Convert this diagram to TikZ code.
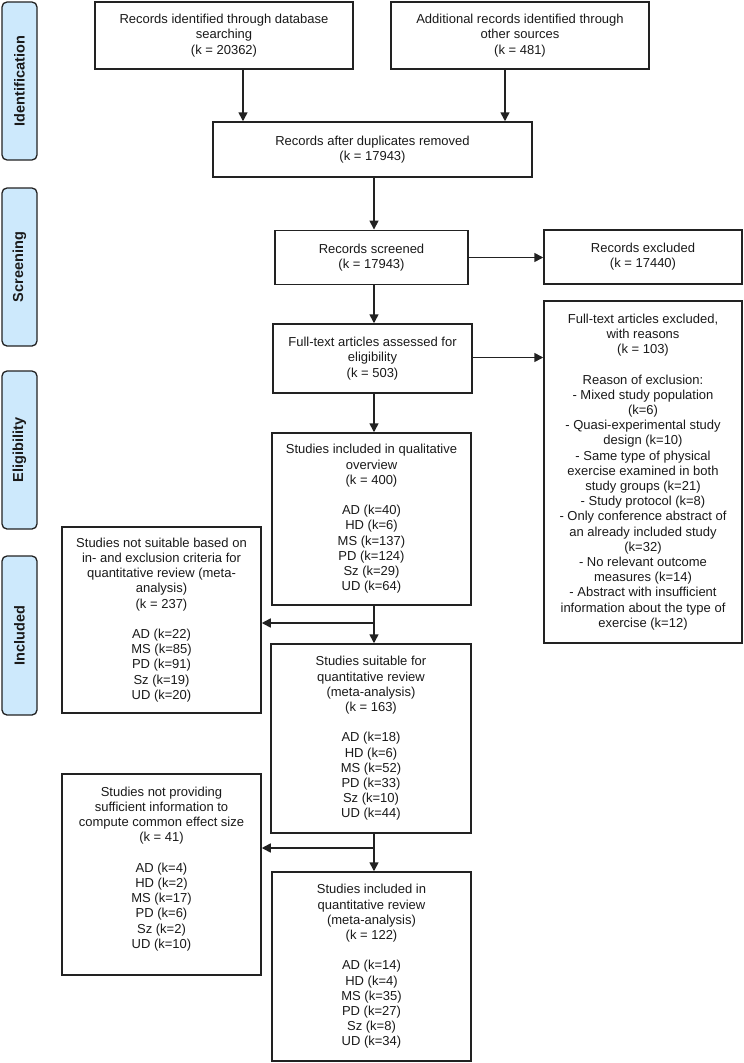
\documentclass[tikz,border=0pt]{standalone}
\usepackage{fontspec}
\setmainfont{Liberation Sans}
\usetikzlibrary{arrows.meta}
\definecolor{lineC}{HTML}{222222}
\definecolor{txtC}{HTML}{1A1A1A}
\definecolor{labFill}{HTML}{CDE9FC}
\begin{document}
\begin{tikzpicture}[x=1pt,y=-1pt,
  boxnode/.style={draw=lineC, line width=1.5pt, fill=white, align=center, inner sep=0pt,
    text=txtC, font=\fontsize{13}{15.2}\selectfont},
  labnode/.style={draw=lineC, line width=1.3pt, fill=labFill, rounded corners=5pt,
    minimum width=35pt, inner sep=0pt},
  labtext/.style={rotate=90, font=\fontsize{14.5}{16}\selectfont\bfseries, text=txtC},
  arr/.style={draw=lineC, line width=1.6pt, -{Triangle[length=9pt,width=9pt]}}
]
\useasboundingbox (0,0) rectangle (744,1063);

% phase labels
\node[labnode, minimum height=158pt] (lab1) at (19.5,81) {};
\node[labtext] (lab1t) at (lab1) {Identification};
\node[labnode, minimum height=158pt] (lab2) at (19.5,267) {};
\node[labtext] (lab2t) at (lab2) {Screening};
\node[labnode, minimum height=158pt] (lab3) at (19.5,450) {};
\node[labtext] (lab3t) at (lab3) {Eligibility};
\node[labnode, minimum height=159pt] (lab4) at (19.5,635.5) {};
\node[labtext] (lab4t) at (lab4) {Included};

% boxes
\node[boxnode, minimum width=258pt, minimum height=67pt] (b1) at (224,35.5)
  {Records identified through database\\searching\\(k = 20362)};
\node[boxnode, minimum width=258pt, minimum height=67pt] (b2) at (520,35.5)
  {Additional records identified through\\other sources\\(k = 481)};
\node[boxnode, minimum width=319pt, minimum height=55pt] (b3) at (372.5,149.5)
  {Records after duplicates removed\\(k = 17943)};
\node[boxnode, minimum width=193pt, minimum height=54pt] (b4) at (371.5,257.3)
  {Records screened\\(k = 17943)};
\node[boxnode, minimum width=198pt, minimum height=54pt] (b5) at (643,257)
  {Records excluded\\(k = 17440)};
\node[boxnode, minimum width=199pt, minimum height=69pt] (b6) at (372.5,358.5)
  {Full-text articles assessed for\\eligibility\\(k = 503)};
\node[boxnode, minimum width=198pt, minimum height=342pt] (b7) at (643,472)
  {Full-text articles excluded,\\with reasons\\(k = 103)\\[15.2pt]
   Reason of exclusion:\\- Mixed study population\\(k=6)\\- Quasi-experimental study\\design (k=10)\\
   - Same type of physical\\exercise examined in both\\study groups (k=21)\\- Study protocol (k=8)\\
   - Only conference abstract of\\an already included study\\(k=32)\\- No relevant outcome\\measures (k=14)\\
   - Abstract with insufficient\\information about the type of\\exercise (k=12)};
\node[boxnode, minimum width=199pt, minimum height=172pt] (b8) at (371.5,519)
  {Studies included in qualitative\\overview\\(k = 400)\\[15.2pt]
   AD (k=40)\\HD (k=6)\\MS (k=137)\\PD (k=124)\\Sz (k=29)\\UD (k=64)};
\node[boxnode, minimum width=199pt, minimum height=186pt] (b9) at (161.5,620)
  {Studies not suitable based on\\in- and exclusion criteria for\\quantitative review (meta-\\analysis)\\(k = 237)\\[15.2pt]
   AD (k=22)\\MS (k=85)\\PD (k=91)\\Sz (k=19)\\UD (k=20)};
\node[boxnode, minimum width=200pt, minimum height=189pt] (b10) at (371,738.5)
  {Studies suitable for\\quantitative review\\(meta-analysis)\\(k = 163)\\[15.2pt]
   AD (k=18)\\HD (k=6)\\MS (k=52)\\PD (k=33)\\Sz (k=10)\\UD (k=44)};
\node[boxnode, minimum width=199pt, minimum height=201pt] (b11) at (161.5,874.5) {};
\node[boxnode, draw=none, fill=none] (b11t) at (161.5,869)
  {Studies not providing\\sufficient information to\\compute common effect size\\(k = 41)\\[15.2pt]
   AD (k=4)\\HD (k=2)\\MS (k=17)\\PD (k=6)\\Sz (k=2)\\UD (k=10)};
\node[boxnode, minimum width=199pt, minimum height=189pt] (b12) at (371.5,966.5)
  {Studies included in\\quantitative review\\(meta-analysis)\\(k = 122)\\[15.2pt]
   AD (k=14)\\HD (k=4)\\MS (k=35)\\PD (k=27)\\Sz (k=8)\\UD (k=34)};

% connectors
\coordinate (col) at (374,0);
\coordinate (j1) at (374,623);
\coordinate (j2) at (374,848);
\coordinate (r1) at (0,257.5);
\coordinate (r2) at (0,357.5);
\draw[arr] ([xshift=19pt]b1.south) -- ([xshift=19pt]b1.south |- b3.north);
\draw[arr] ([xshift=-15pt]b2.south) -- ([xshift=-15pt]b2.south |- b3.north);
\draw[arr] (b3.south -| col) -- (b4.north -| col);
\draw[arr] (b4.east |- r1) -- (b5.west |- r1);
\draw[arr] (b4.south -| col) -- (b6.north -| col);
\draw[arr] (b6.east |- r2) -- (b7.west |- r2);
\draw[arr] (b6.south -| col) -- (b8.north -| col);
\draw[arr] (b8.south -| col) -- (b10.north -| col);
\draw[arr] (j1) -- (b9.east |- j1);
\draw[arr] (b10.south -| col) -- (b12.north -| col);
\draw[arr] (j2) -- (b11.east |- j2);
\end{tikzpicture}
\end{document}
